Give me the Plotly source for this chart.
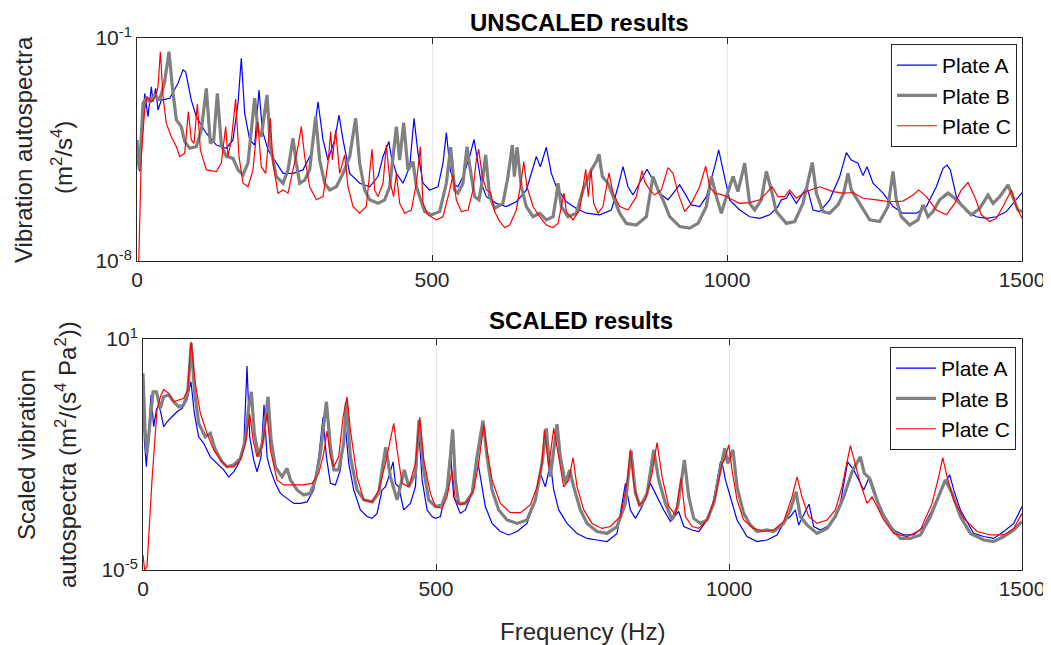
import plotly.graph_objects as go

# ---------------- data (frequency Hz, log10 of autospectrum) ----------------
series_names = ["Plate A", "Plate B", "Plate C"]
series_colors = ["#0000ff", "#808080", "#ff0000"]
series_widths = [1.2, 3.2, 1.2]

x_ticks = [0, 500, 1000, 1500]
top_y_ticks = [1e-8, 1e-1]
top_y_ticktext = ["10<sup>-8</sup>", "10<sup>-1</sup>"]
bot_y_ticks = [1e-5, 1e1]
bot_y_ticktext = ["10<sup>-5</sup>", "10<sup>1</sup>"]

plate_a_unscaled = [(0,-4.20),(4.5,-5.19),(13,-2.74),(18.6,-3.47),(24.3,-2.53),(27.1,-3.00),(31.6,-2.58),(35.6,-3.26),(41.2,-2.95),(55.4,-2.89),(69.5,-2.42),(78,-2.00),(82.5,-2.06),(92,-2.95),(100.6,-3.47),(117.5,-3.99),(134.5,-4.36),(151.4,-4.46),(162.7,-4.20),(171.2,-3.05),(176.8,-1.64),(182.5,-3.36),(191,-4.20),(199.4,-4.36),(206.8,-2.63),(212.4,-3.89),(222,-4.51),(236,-4.93),(247.5,-5.25),(264.4,-5.25),(281.4,-5.14),(295.5,-4.62),(306.8,-3.00),(315.3,-4.20),(323.7,-4.83),(335,-4.20),(342.4,-3.42),(349.2,-4.20),(360.5,-5.25),(377.4,-5.56),(394.4,-5.67),(408.5,-5.35),(417,-4.72),(427,-4.25),(431,-4.72),(439.6,-5.25),(450.9,-5.56),(462.2,-5.04),(469.5,-3.52),(476.3,-4.62),(484.8,-5.56),(496,-5.77),(510.2,-5.67),(518.6,-4.93),(524.3,-3.97),(531,-5.14),(538.4,-5.61),(544,-5.67),(552.5,-5.35),(563.8,-4.72),(571.2,-4.18),(578,-4.93),(583.6,-5.56),(592.1,-5.98),(609,-6.19),(626,-6.29),(643,-6.14),(660,-5.77),(671.2,-5.04),(676.8,-4.72),(683.6,-5.04),(693.8,-4.43),(702.3,-5.25),(710.7,-5.67),(727.7,-6.14),(744.6,-6.35),(761.6,-6.50),(784.2,-6.55),(804,-6.40),(815.3,-5.67),(823.7,-5.04),(832.2,-5.67),(840.7,-5.93),(852,-5.56),(864.4,-5.12),(874.6,-5.46),(885.9,-5.87),(900,-6.08),(908.5,-5.87),(919.8,-5.61),(928.3,-5.87),(939.6,-6.24),(953.7,-6.29),(965,-5.98),(979.1,-5.04),(985.9,-4.51),(993.2,-5.14),(1004.5,-6.08),(1021.5,-6.40),(1038.4,-6.61),(1055.4,-6.66),(1072.3,-6.55),(1086.4,-6.29),(1092.1,-6.08),(1100.6,-6.03),(1106.2,-5.85),(1117.5,-6.19),(1128.8,-5.87),(1135.6,-5.67),(1145.8,-6.40),(1157,-6.45),(1174,-6.08),(1191,-5.35),(1202.3,-4.60),(1210.7,-4.83),(1222,-4.93),(1230.5,-5.32),(1237.3,-5.04),(1247.5,-5.56),(1264.4,-5.87),(1281.4,-6.29),(1298.3,-6.50),(1321,-6.50),(1337.9,-6.29),(1354.8,-5.67),(1366.1,-5.09),(1372.9,-4.99),(1378.6,-5.14),(1388.7,-5.98),(1405.7,-6.45),(1422.6,-6.61),(1439.6,-6.66),(1456.5,-6.61),(1473.5,-6.45),(1484.8,-6.19),(1500,-5.85)]

plate_b_unscaled = [(0,-4.20),(2.3,-4.93),(4.5,-5.14),(10.2,-3.05),(15.8,-2.89),(21.5,-3.00),(29.9,-2.79),(38.4,-2.95),(46.9,-2.37),(54.2,-1.43),(59.9,-2.53),(66.7,-3.57),(75.1,-3.78),(80.8,-4.25),(89.3,-4.46),(100.6,-4.41),(109,-3.89),(117.5,-2.58),(124.3,-4.31),(130,-4.20),(136.2,-2.74),(143,-4.36),(151.4,-4.72),(162.7,-4.78),(171.2,-5.14),(179.7,-5.30),(188.1,-4.93),(199.4,-2.89),(205.1,-3.89),(210.7,-4.10),(220.4,-2.79),(226,-4.41),(236.2,-5.35),(247.5,-5.56),(256,-5.14),(264.4,-4.15),(270,-4.93),(275.7,-5.56),(284.2,-5.46),(292.7,-5.14),(302.8,-3.47),(309.6,-4.83),(318.1,-5.56),(326.6,-5.77),(337.9,-5.67),(349.2,-5.25),(360.5,-4.72),(370.6,-3.52),(377.4,-4.93),(385.9,-5.77),(394.4,-6.08),(408.5,-6.19),(419.8,-6.08),(428.3,-5.67),(439.6,-3.78),(445.2,-4.83),(452,-3.66),(459.3,-5.14),(467.8,-4.88),(473.5,-5.67),(484.8,-6.29),(487.6,-6.45),(498.9,-6.55),(513,-6.45),(524.3,-5.56),(531.6,-4.43),(538.4,-5.77),(544,-5.87),(552.5,-5.56),(559.3,-4.41),(565,-5.14),(572.3,-5.98),(579.7,-6.08),(586.4,-5.35),(591,-4.67),(597.7,-5.98),(606.2,-6.35),(620.3,-6.19),(628.8,-5.35),(636.2,-4.36),(639.6,-5.35),(644.1,-4.43),(651.4,-5.67),(659.9,-6.29),(671.2,-6.61),(682.5,-6.50),(693.8,-6.71),(705.1,-6.61),(710.7,-5.98),(713.6,-5.56),(719.2,-6.29),(730.5,-6.61),(744.6,-6.50),(756,-5.77),(770.1,-5.14),(778.5,-4.88),(783.1,-4.65),(788.7,-5.35),(798.3,-5.56),(806.8,-5.98),(818.1,-6.50),(829.4,-6.82),(846.4,-6.87),(863.3,-6.61),(874.6,-5.35),(883.1,-5.77),(891.6,-6.08),(902.9,-6.61),(919.8,-6.92),(936.7,-6.97),(950.9,-6.82),(965,-6.29),(973.5,-5.35),(982,-5.98),(990.4,-6.50),(998.9,-5.98),(1010.2,-5.35),(1018.6,-5.82),(1030,-4.93),(1038.4,-6.19),(1046.9,-6.40),(1058.2,-6.08),(1066.7,-5.19),(1075.1,-5.77),(1083.6,-6.45),(1100.6,-6.82),(1114.7,-6.76),(1128.8,-6.19),(1144.6,-4.91),(1151.4,-5.87),(1162.7,-6.45),(1174,-6.50),(1188.1,-6.24),(1197.8,-5.87),(1205.1,-5.25),(1210.7,-5.77),(1224.9,-6.19),(1241.8,-6.71),(1258.8,-6.76),(1272.9,-6.29),(1281.4,-5.19),(1287,-6.08),(1295.5,-6.61),(1309.6,-6.87),(1323.7,-6.71),(1332.2,-6.24),(1340.7,-6.61),(1349.2,-6.45),(1360.5,-6.08),(1374.6,-5.87),(1385.9,-6.03),(1400,-6.29),(1414.1,-6.55),(1428.3,-6.35),(1442.4,-5.93),(1450.9,-6.19),(1462.2,-5.98),(1476.3,-5.61),(1484.8,-5.98),(1493.2,-6.40),(1500,-6.45)]

plate_c_unscaled = [(3,-8.0),(7.3,-4.72),(13,-3.26),(17,-2.84),(24.3,-3.00),(31.6,-2.84),(35.6,-2.53),(39.6,-1.43),(44.1,-2.84),(49.7,-3.68),(58.2,-4.10),(66.7,-4.41),(72.3,-4.72),(80.8,-4.62),(87,-3.31),(92.1,-4.20),(96.6,-4.31),(102.3,-3.07),(107.4,-4.51),(117.5,-5.14),(134.5,-5.19),(142.9,-4.93),(150.3,-3.78),(154.2,-4.72),(159.9,-4.20),(167.2,-2.92),(172.9,-4.72),(179.7,-5.56),(188.1,-5.67),(196.6,-5.14),(204.5,-3.63),(210.7,-5.04),(218.1,-5.25),(226,-3.52),(230.5,-4.93),(239,-5.87),(247.5,-5.77),(256,-5.87),(264.4,-5.14),(272.9,-4.41),(278.5,-3.78),(284.2,-4.72),(292.7,-5.67),(304,-6.08),(315.3,-5.98),(323.7,-4.93),(328.3,-3.94),(331.1,-4.83),(336.7,-3.89),(343.5,-5.25),(352,-4.67),(357.6,-5.67),(366.1,-6.29),(377.4,-6.50),(388.7,-6.29),(394.4,-5.25),(398.3,-4.49),(402.8,-5.77),(408.5,-5.98),(417,-5.56),(422.6,-4.36),(428.3,-5.46),(435,-5.98),(439.6,-5.25),(445.2,-6.19),(453.7,-6.50),(465,-6.40),(473.5,-5.56),(480.3,-4.41),(484.7,-6.19),(493.2,-6.55),(507.3,-6.71),(518.6,-6.61),(528.8,-5.87),(535.6,-5.30),(541.2,-6.08),(549.7,-6.45),(561,-6.40),(569.5,-5.77),(575.1,-4.83),(579.1,-4.49),(585.3,-5.35),(592.1,-5.77),(599.4,-5.85),(606.2,-6.45),(614.7,-6.76),(623.2,-6.95),(631.6,-6.87),(643,-6.40),(651.4,-5.46),(655.4,-4.88),(661,-5.67),(671.2,-6.29),(682.5,-6.61),(693.8,-6.87),(705.1,-6.95),(713.6,-6.82),(719.2,-6.29),(723.7,-5.87),(727.7,-6.45),(739,-6.71),(750.3,-6.40),(756,-5.67),(760.5,-5.12),(765,-5.98),(769.5,-5.12),(774,-6.19),(781.4,-6.50),(789.8,-6.29),(800,-5.23),(806.8,-5.87),(818.1,-6.29),(832.2,-6.40),(846.3,-5.98),(856,-5.16),(860.5,-5.51),(869,-5.77),(877.4,-5.93),(888.7,-5.77),(900,-5.07),(908.5,-5.25),(917,-5.87),(928.3,-6.45),(939.6,-6.19),(953.7,-5.67),(963.9,-5.02),(970.6,-5.67),(979.1,-5.87),(993.2,-5.93),(1004.5,-6.03),(1021.5,-6.19),(1038.4,-6.17),(1055.4,-6.08),(1066.7,-5.87),(1076.3,-5.67),(1086.4,-5.98),(1097.7,-5.98),(1106.2,-5.77),(1117.5,-6.03),(1134.5,-5.82),(1157,-5.67),(1179.7,-5.82),(1196.6,-5.87),(1213.6,-5.85),(1230.5,-6.03),(1253.1,-6.08),(1275.7,-6.14),(1298.3,-6.12),(1315.3,-5.93),(1324.9,-5.77),(1337.9,-5.98),(1354.8,-6.40),(1371.8,-6.55),(1385.9,-6.19),(1397.2,-5.77),(1408.5,-5.54),(1419.8,-5.98),(1431.1,-6.55),(1445.2,-6.76),(1456.5,-6.66),(1467.8,-6.29),(1482,-5.77),(1490.4,-6.29),(1500,-6.66)]

plate_a_scaled = [(0,0.02),(2.3,-1.62),(5.7,-2.32),(9.7,-1.36),(13.7,-0.45),(18.2,-1.28),(22.8,-0.84),(26.7,-0.71),(30.7,-0.93),(35.3,-1.28),(41,-1.15),(49.5,-1.02),(58,-0.89),(66.6,-0.80),(75.1,-0.58),(81.9,-0.11),(87.6,-0.93),(95,-1.54),(103.6,-1.71),(114.9,-2.06),(126.3,-2.23),(137.7,-2.40),(146.2,-2.58),(154.8,-2.45),(163.3,-2.23),(171.8,-1.88),(177.5,0.30),(182.1,-1.54),(188.9,-2.14),(194.6,-2.45),(201.4,-2.06),(206.5,-0.71),(211.7,-2.06),(217.4,-2.40),(225.9,-2.75),(234.4,-3.01),(245.8,-3.14),(257.2,-3.27),(268.6,-3.27),(280,-3.23),(291.3,-2.92),(299.9,-2.06),(307.3,-1.03),(313,-2.06),(319.8,-2.75),(328.3,-2.79),(336.8,-2.40),(345.4,-1.28),(351.1,-2.23),(359.6,-2.92),(371,-3.44),(382.4,-3.61),(390.9,-3.66),(399.4,-3.53),(408,-2.92),(413.7,-2.84),(419.4,-2.58),(426.8,-2.19),(430.7,-2.75),(436.4,-2.84),(444.9,-3.44),(456.3,-3.27),(464.9,-2.84),(470.6,-1.36),(476.3,-2.66),(484.8,-3.44),(493.3,-3.61),(498.9,-3.66),(507.4,-3.61),(518.8,-2.84),(524.5,-1.88),(530.2,-3.10),(541.5,-3.53),(550.1,-3.44),(561.5,-3.01),(570,-2.06),(575.7,-2.58),(584.2,-3.35),(595.6,-3.79),(609.8,-4.00),(624,-4.09),(638.3,-4.00),(655.3,-3.79),(669.6,-3.18),(678.1,-2.49),(686.6,-2.84),(695.2,-2.23),(700.9,-2.92),(709.4,-3.44),(723.6,-3.79),(740.7,-4.05),(757.8,-4.18),(774.8,-4.22),(791.9,-4.26),(809,-4.05),(817.5,-3.27),(823.2,-2.75),(831.7,-3.44),(840.3,-3.66),(851.6,-3.35),(865.9,-2.75),(874.4,-3.01),(888.6,-3.44),(900,-3.74),(914.2,-3.48),(922.8,-3.87),(937,-3.96),(948.4,-4.00),(962.6,-3.70),(974,-3.18),(985.4,-2.19),(988,-2.19),(993.9,-2.66),(1002.3,-3.10),(1013.7,-3.70),(1030.7,-4.13),(1047.8,-4.26),(1064.9,-4.22),(1081.9,-4.09),(1096.2,-3.70),(1104.7,-3.61),(1113.2,-3.44),(1118.9,-3.83),(1130.3,-3.48),(1136.6,-3.29),(1144.5,-3.87),(1155.9,-3.96),(1173,-3.83),(1190,-3.27),(1202.6,-2.19),(1212.8,-2.40),(1229.9,-2.92),(1238.4,-2.62),(1247,-3.01),(1258.3,-3.35),(1269.7,-3.74),(1281.1,-3.96),(1298.2,-4.09),(1315.2,-4.09),(1332.3,-3.87),(1349.4,-3.35),(1363.6,-2.84),(1376.7,-2.53),(1383.5,-2.92),(1394.9,-3.44),(1417.6,-4.05),(1434.7,-4.13),(1451.8,-4.18),(1468.9,-4.00),(1485.9,-3.79),(1500,-3.35)]

plate_b_scaled = [(0,0.11),(3.4,-1.36),(6.8,-1.97),(11.4,-1.19),(17.1,-0.37),(22.8,-0.37),(29.6,-0.80),(35.3,-0.50),(43.8,-0.45),(52.3,-0.63),(60.9,-0.76),(69.4,-0.71),(76.2,-0.41),(82.5,0.89),(87.6,-0.32),(95,-1.19),(106.4,-1.54),(114.9,-1.45),(123.5,-1.88),(134.9,-2.19),(143.4,-2.32),(154.8,-2.27),(166.1,-2.10),(174.7,-1.62),(180.4,-0.76),(184.9,-0.37),(190,-1.45),(197.4,-2.06),(204.8,-1.62),(213.4,-0.50),(218.5,-1.62),(225.9,-2.32),(237.3,-2.58),(245.8,-2.36),(251.5,-2.66),(262.9,-2.92),(274.3,-3.05),(285.6,-3.01),(294.2,-2.66),(302.7,-1.97),(313,-0.63),(319.8,-1.80),(325.5,-2.40),(334,-2.40),(342.5,-1.71),(347.1,-0.63),(353.9,-2.06),(365.3,-2.92),(376.7,-3.18),(390.9,-3.23),(402.3,-3.01),(408,-2.40),(414.2,-1.81),(422.2,-2.58),(433.6,-3.18),(440.4,-2.75),(446.1,-2.40),(453.5,-2.84),(464.9,-2.49),(471.1,-1.10),(479.1,-2.40),(487.6,-3.18),(498.9,-3.35),(510.2,-3.31),(518.8,-2.92),(524.5,-2.06),(528.5,-1.35),(533,-2.66),(538.7,-3.27),(550.1,-3.27),(561.5,-3.01),(570,-2.06),(580.2,-1.12),(587.1,-2.06),(595.6,-2.92),(607,-3.44),(621.2,-3.70),(638.3,-3.79),(655.3,-3.70),(669.6,-3.18),(680.9,-2.23),(688.3,-1.32),(695.2,-2.58),(706.5,-1.21),(712.2,-2.06),(720.8,-2.75),(728.2,-2.40),(735,-2.84),(746.4,-3.44),(757.8,-3.79),(774.8,-4.00),(791.9,-4.05),(809,-3.87),(823.2,-3.27),(832.9,-1.90),(840.3,-3.01),(848.8,-3.35),(860.2,-3.01),(871.6,-1.88),(880.1,-2.66),(891.5,-3.27),(902.9,-3.70),(912.5,-3.35),(923.9,-2.14),(931.3,-3.10),(939.8,-3.66),(951.2,-3.79),(962.6,-3.70),(974,-3.27),(982.5,-2.58),(992.8,-1.84),(997.7,-2.23),(1006.8,-1.88),(1013.7,-2.84),(1025,-3.53),(1036.4,-3.83),(1047.8,-4.00),(1064.9,-3.96),(1076.2,-4.00),(1093.3,-3.79),(1104.7,-3.44),(1114.4,-2.97),(1121.8,-3.61),(1133.1,-3.83),(1150.2,-4.05),(1167.3,-3.92),(1181.5,-3.61),(1195.7,-3.10),(1210,-2.45),(1224.2,-2.06),(1231,-2.49),(1240.1,-2.62),(1246.9,-2.92),(1258.3,-3.44),(1275.4,-3.87),(1292.5,-4.18),(1309.5,-4.18),(1326.6,-4.09),(1343.7,-3.61),(1357.9,-3.10),(1369.3,-2.66),(1380.7,-3.01),(1394.9,-3.61),(1412,-4.05),(1434.7,-4.22),(1451.8,-4.26),(1468.9,-4.13),(1485.9,-3.96),(1500,-3.74)]

plate_c_scaled = [(0,-4.61),(2.8,-5.0),(6.8,-4.91),(15.4,-2.66),(23.9,-0.84),(29.6,-0.50),(35.3,-0.31),(43.8,-0.41),(52.3,-0.63),(60.9,-0.58),(69.4,-0.54),(76.2,-0.32),(81.9,0.93),(89.3,-0.15),(97.9,-0.93),(109.2,-1.45),(120.6,-1.88),(132,-2.14),(143.4,-2.32),(154.8,-2.32),(166.1,-2.14),(174.7,-1.71),(182.1,-0.95),(187.8,-1.62),(194.6,-2.06),(203.1,-1.80),(211.7,-0.93),(217.4,-1.88),(228.7,-2.66),(240.1,-2.79),(257.2,-2.79),(274.3,-2.79),(288.5,-2.75),(299.9,-2.49),(308.4,-1.97),(314.1,-1.39),(319.8,-2.06),(325.5,-2.32),(334,-2.06),(341.4,-1.02),(348.2,-0.50),(353.9,-1.36),(365.3,-2.58),(376.7,-3.18),(390.9,-3.23),(402.3,-2.92),(413.7,-2.23),(427.9,-1.19),(433.6,-1.88),(442.1,-2.75),(453.5,-2.84),(464.9,-2.23),(472.3,-1.03),(479.1,-2.14),(490.5,-3.01),(498.9,-3.35),(510.2,-3.40),(518.8,-3.10),(527.3,-2.42),(533,-3.18),(541.5,-3.31),(552.9,-3.23),(564.3,-2.92),(572.8,-2.23),(581.4,-1.23),(587.1,-1.88),(595.6,-2.66),(609.8,-3.27),(626.9,-3.51),(644,-3.51),(661,-3.31),(672.4,-2.84),(680.9,-2.23),(684.9,-1.36),(692.3,-2.32),(700.9,-1.32),(709.4,-2.06),(717.9,-2.84),(726.5,-2.66),(733.9,-2.08),(740.7,-2.84),(752.1,-3.44),(766.3,-3.79),(783.4,-3.92),(797.6,-3.87),(814.7,-3.61),(826,-2.75),(831.7,-1.87),(837.4,-2.75),(845.9,-3.31),(857.3,-3.18),(868.7,-2.49),(877.2,-1.69),(885.8,-2.58),(897.2,-3.35),(908.5,-3.57),(918.2,-2.62),(925.6,-3.61),(937,-3.87),(948.4,-3.92),(962.6,-3.70),(976.8,-3.10),(988.2,-2.23),(992.2,-2.14),(999.6,-1.75),(1005.1,-2.40),(1013.7,-3.18),(1025,-3.70),(1042.1,-3.92),(1059.2,-4.00),(1076.2,-3.96),(1093.3,-3.74),(1107.5,-3.10),(1116.1,-2.58),(1124.6,-3.10),(1136,-3.61),(1150.2,-3.79),(1167.3,-3.70),(1181.5,-3.44),(1192.9,-2.84),(1207.1,-1.77),(1215.7,-2.23),(1224.2,-2.75),(1235.6,-3.27),(1244.1,-3.10),(1252.6,-3.35),(1264,-3.70),(1281.1,-4.05),(1303.8,-4.13),(1326.6,-3.96),(1346.5,-3.27),(1357.9,-2.58),(1364.7,-2.08),(1372.1,-2.58),(1383.5,-3.18),(1400.6,-3.66),(1423.3,-4.00),(1446.1,-4.09),(1468.9,-4.09),(1485.9,-3.92),(1500,-3.53)]

unscaled_series = [plate_a_unscaled, plate_b_unscaled, plate_c_unscaled]
scaled_series = [plate_a_scaled, plate_b_scaled, plate_c_scaled]

# ---------------- figure ----------------
# the page body has an 8px margin, so the figure is offset by 8px
OFF = 8
W, H = 1051 - OFF, 645 - OFF
FONT = "Liberation Sans, Arial, Helvetica, sans-serif"
AX = "#262626"

def px_x(p):
    return (p - OFF) / W

def px_y(p):
    return 1 - (p - OFF) / H

fig = go.Figure()

for i, pts in enumerate(unscaled_series):
    fig.add_trace(go.Scatter(
        x=[p[0] for p in pts], y=[10 ** p[1] for p in pts],
        mode="lines", name=series_names[i],
        line=dict(color=series_colors[i], width=series_widths[i]),
        xaxis="x", yaxis="y", legend="legend",
    ))
for i, pts in enumerate(scaled_series):
    fig.add_trace(go.Scatter(
        x=[p[0] for p in pts], y=[10 ** p[1] for p in pts],
        mode="lines", name=series_names[i],
        line=dict(color=series_colors[i], width=series_widths[i]),
        xaxis="x2", yaxis="y2", legend="legend2",
    ))

common_axis = dict(
    showline=True, linecolor=AX, linewidth=1, mirror="ticks",
    ticks="inside", ticklen=6, tickcolor=AX, tickwidth=1,
    showgrid=True, gridcolor="#e6e6e6", gridwidth=1, zeroline=False,
    automargin=False,
    tickfont=dict(family=FONT, size=21, color=AX),
)

legend_common = dict(
    xanchor="right", yanchor="top", bgcolor="white",
    bordercolor=AX, borderwidth=1,
    font=dict(family=FONT, size=21, color="black"),
    tracegroupgap=0, itemwidth=40,
)

fig.update_layout(
    template="none",
    width=W, height=H, autosize=False,
    margin=dict(l=0, r=0, t=0, b=0, pad=0, autoexpand=False),
    paper_bgcolor="white", plot_bgcolor="white",
    font=dict(family=FONT, color=AX),
    xaxis=dict(domain=[px_x(137), px_x(1022)], anchor="y", range=[0, 1500],
               tickvals=x_ticks, **common_axis),
    yaxis=dict(domain=[px_y(261), px_y(38)], anchor="x", type="log", range=[-8, -1],
               tickvals=top_y_ticks, ticktext=top_y_ticktext, **common_axis),
    xaxis2=dict(domain=[px_x(143), px_x(1022)], anchor="y2", range=[0, 1500],
                tickvals=x_ticks, **common_axis),
    yaxis2=dict(domain=[px_y(570), px_y(339)], anchor="x2", type="log", range=[-5, 1],
                tickvals=bot_y_ticks, ticktext=bot_y_ticktext, **common_axis),
    legend=dict(x=px_x(1017), y=px_y(44), **legend_common),
    legend2=dict(x=px_x(1016), y=px_y(347), **legend_common),
    showlegend=True,
)

def note(text, x, y, size, angle=0, bold=False):
    fig.add_annotation(
        text=("<b>%s</b>" % text) if bold else text,
        x=px_x(x), y=px_y(y), xref="paper", yref="paper",
        xanchor="center", yanchor="middle", showarrow=False,
        textangle=angle, font=dict(family=FONT, size=size, color="black" if bold else AX),
    )

note("UNSCALED results", 579, 22, 24, bold=True)
note("SCALED results", 581, 320, 24, bold=True)
note("Vibration autospectra", 23, 150, 24, angle=-90)
note("(m<sup>2</sup>/s<sup>4</sup>)", 62, 158, 24, angle=-90)
note("Scaled vibration", 26, 455, 24, angle=-90)
note("autospectra (m<sup>2</sup>/(s<sup>4</sup> Pa<sup>2</sup>))", 66, 455, 24, angle=-90)
note("Frequency (Hz)", 582, 631, 24)

fig.write_html("out.html", config={"displayModeBar": False})
